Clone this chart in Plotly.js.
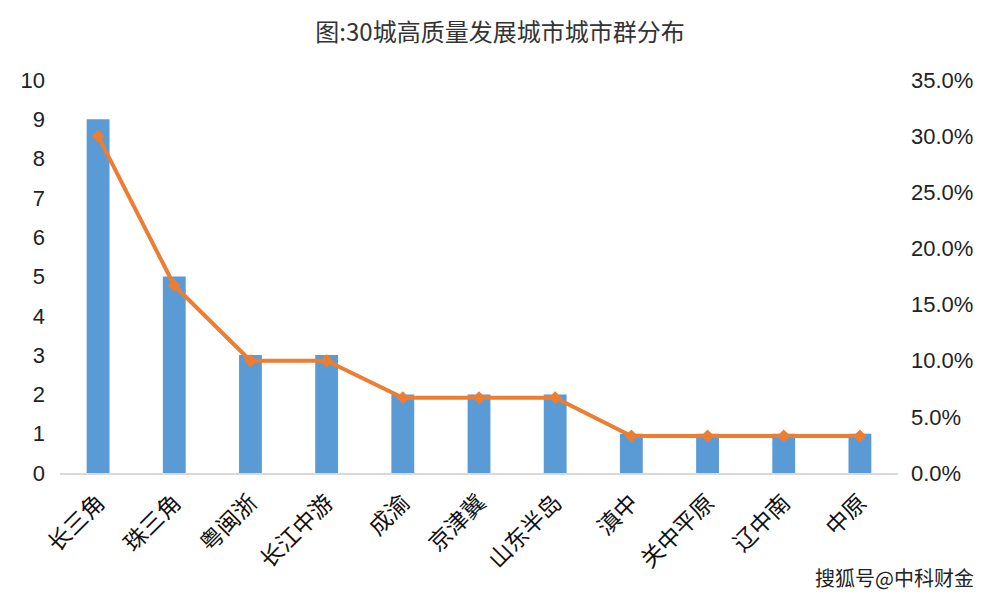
<!DOCTYPE html>
<html>
<head>
<meta charset="utf-8">
<script src="https://cdn.plot.ly/plotly-3.0.1.min.js"></script>
<style>html,body{margin:0;padding:0;background:#fff;}#chart{width:1000px;height:598px;}</style>
</head>
<body>
<div id="chart"></div>
<script>
const categories = ["长三角","珠三角","粤闽浙","长江中游","成渝","京津冀","山东半岛","滇中","关中平原","辽中南","中原"];
const cityCounts = [9,5,3,3,2,2,2,1,1,1,1];
const shares = [0.300,0.167,0.100,0.100,0.067,0.067,0.067,0.033,0.033,0.033,0.033];
const leftTicks = [0,1,2,3,4,5,6,7,8,9,10];
const rightTicks = [0,0.05,0.10,0.15,0.20,0.25,0.30,0.35];

const font = "'Noto Sans CJK SC', 'Noto Sans', sans-serif";
const numFont = "'Liberation Sans', Arial, sans-serif";

const traces = [
  {type:'bar', x:categories, y:cityCounts, marker:{color:'#5B9BD5'}, hoverinfo:'none'},
  {type:'scatter', mode:'lines+markers', x:categories, y:shares, yaxis:'y2',
   line:{color:'#ED7D31', width:4}, marker:{color:'#ED7D31', size:10, symbol:'diamond'}}
];

const layout = {
  width:1000, height:598,
  margin:{l:60, r:102, t:80, b:125},
  paper_bgcolor:'#fff', plot_bgcolor:'#fff',
  showlegend:false,
  bargap:0.7,
  title:{text:'图:30城高质量发展城市城市群分布', x:0.5, xanchor:'center', y:0.945, yanchor:'middle',
         font:{family:font, size:24, color:'#333'}},
  xaxis:{type:'category', range:[-0.5, categories.length-0.5], tickangle:-45, showline:true,
         linecolor:'#d9d9d9', linewidth:2, ticklabelstandoff:5,
         ticks:'', showgrid:false, automargin:false, tickfont:{family:font, size:23, color:'#111'}},
  yaxis:{range:[0,10], tickvals:leftTicks, showgrid:false, zeroline:false, ticks:'', automargin:false,
         tickfont:{family:numFont, size:22, color:'#222'}, ticklabelstandoff:14},
  yaxis2:{overlaying:'y', side:'right', range:[0,0.35], tickvals:rightTicks, tickformat:'.1%',
          showgrid:false, zeroline:false, ticks:'', automargin:false,
          tickfont:{family:numFont, size:22, color:'#222'}, ticklabelstandoff:12},
  annotations:[{text:'搜狐号@中科财金', xref:'paper', yref:'paper', x:1.093, y:-0.265,
                xanchor:'right', yanchor:'middle', showarrow:false,
                font:{family:font, size:20, color:'#222'}}]
};
Plotly.newPlot('chart', traces, layout, {displayModeBar:false, staticPlot:true});
</script>
</body>
</html>
